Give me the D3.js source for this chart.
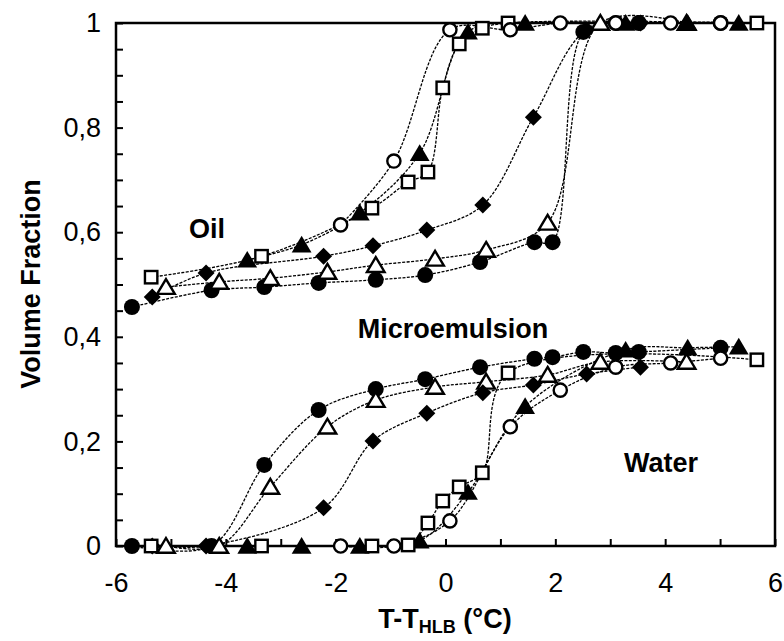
<!DOCTYPE html>
<meta charset="utf-8">
<style>
    body { margin: 0; background: #fff; }
    svg { font-family: "Liberation Sans", Arial, sans-serif; }
    .tick text { font-size: 27px; fill: #000; }
    .tick line { stroke: #000; stroke-width: 2; }
    .curve { fill: none; stroke: #000; stroke-width: 1.3; stroke-dasharray: 3,1.4; }
    .lbl { font-size: 27px; font-weight: bold; }
</style>

<svg width="784" height="641"></svg>

<script src="https://d3js.org/d3.v7.min.js"></script>

<script>
// filled circles
var fcX     = [-5.71, -4.26, -3.30, -2.31, -1.27, -0.37, 0.63, 1.62, 1.95, 2.51, 3.10, 3.52, 5.01];
var fcOil   = [0.457, 0.489, 0.495, 0.503, 0.509, 0.518, 0.543, 0.581, 0.581, 0.983, 1, 1, 1];
var fcWater = [0, 0, 0.155, 0.260, 0.300, 0.319, 0.342, 0.358, 0.361, 0.371, 0.369, 0.371, 0.379];
// open triangles
var otX     = [-5.09, -4.12, -3.19, -2.15, -1.27, -0.19, 0.74, 1.86, 2.82, 4.39];
var otOil   = [0.495, 0.505, 0.512, 0.524, 0.537, 0.549, 0.566, 0.618, 1, 1];
var otWater = [0, 0, 0.113, 0.228, 0.279, 0.304, 0.314, 0.327, 0.352, 0.352];
// filled diamonds
var fdX     = [-5.34, -4.36, -2.22, -1.32, -0.34, 0.68, 1.60, 2.57, 3.55];
var fdOil   = [0.476, 0.522, 0.554, 0.574, 0.604, 0.652, 0.820, 0.987, 1];
var fdWater = [0, 0, 0.073, 0.201, 0.254, 0.293, 0.308, 0.329, 0.342];
// filled triangles
var ftX     = [-3.61, -2.62, -1.56, -0.47, 0.41, 1.45, 3.28, 4.41, 5.34];
var ftOil   = [0.547, 0.576, 0.637, 0.751, 0.983, 1, 1, 1, 1];
var ftWater = [0, 0, 0, 0.01, 0.103, 0.267, 0.375, 0.379, 0.381];
// open squares
var osX     = [-5.36, -3.35, -1.34, -0.68, -0.32, -0.05, 0.25, 0.67, 1.14, 5.67];
var osOil   = [0.514, 0.554, 0.646, 0.696, 0.715, 0.876, 0.960, 0.990, 1, 1];
var osWater = [0, 0, 0, 0.002, 0.044, 0.086, 0.113, 0.14, 0.331, 0.356];
// open circles
var ocX     = [-1.91, -0.94, 0.08, 1.18, 2.09, 3.10, 4.10, 5.01];
var ocOil   = [0.614, 0.736, 0.987, 0.987, 1, 1, 1, 1];
var ocWater = [0, 0, 0.048, 0.228, 0.298, 0.342, 0.350, 0.359];

var xMajor = [-6, -4, -2, 0, 2, 4, 6];
var yMajor = [0, 0.2, 0.4, 0.6, 0.8, 1];

var series = [
    { x: fcX, oil: fcOil, water: fcWater, sym: 'circle',   filled: true },
    { x: otX, oil: otOil, water: otWater, sym: 'triangle', filled: false },
    { x: fdX, oil: fdOil, water: fdWater, sym: 'diamond',  filled: true },
    { x: ftX, oil: ftOil, water: ftWater, sym: 'triangle', filled: true },
    { x: osX, oil: osOil, water: osWater, sym: 'square',   filled: false },
    { x: ocX, oil: ocOil, water: ocWater, sym: 'circle',   filled: false }
];

var L = 116, R = 775, T = 23, B = 546;
var x = d3.scaleLinear().domain([-6, 6]).range([L, R]),
    y = d3.scaleLinear().domain([0, 1]).range([B, T]);

var svg = d3.select('svg');

// axes, inward ticks
var xAxis = d3.axisBottom(x)
    .tickValues(d3.range(13).map(function(i) { return i - 6; }))
    .tickSizeInner(-7).tickSizeOuter(0).tickPadding(27)
    .tickFormat(function(d) { return xMajor.indexOf(d) >= 0 ? String(d) : ''; });
svg.append('g').attr('transform', 'translate(0,' + B + ')').call(xAxis)
    .call(function(g) { g.select('.domain').remove(); });

var yAxis = d3.axisLeft(y)
    .tickValues(d3.range(21).map(function(i) { return i / 20; }))
    .tickSizeInner(-7).tickSizeOuter(0).tickPadding(15)
    .tickFormat(function(d) {
        var m = yMajor.find(function(v) { return Math.abs(v - d) < 1e-9; });
        if (m === undefined) return '';
        return (m === 0 || m === 1) ? String(m) : m.toFixed(1).replace('.', ',');
    });
svg.append('g').attr('transform', 'translate(' + L + ',0)').call(yAxis)
    .call(function(g) { g.select('.domain').remove(); });

svg.selectAll('.tick text').attr('font-family', null).attr('font-size', null);

svg.append('rect')
    .attr('x', L).attr('y', T).attr('width', R - L).attr('height', B - T)
    .attr('fill', 'none').attr('stroke', '#000').attr('stroke-width', 2.5);

// smoothed curves
var line = d3.line()
    .x(function(d) { return x(d[0]); })
    .y(function(d) { return y(d[1]); })
    .curve(d3.curveCatmullRom.alpha(0.5));

series.forEach(function(s) {
    ['oil', 'water'].forEach(function(k) {
        svg.append('path').attr('class', 'curve')
            .datum(s.x.map(function(v, i) { return [v, s[k][i]]; }))
            .attr('d', line);
    });
});

// markers
function marker(g, s) {
    var fill = s.filled ? '#000' : '#fff',
        sw = s.filled ? 0 : 2.4;
    if (s.sym === 'circle') {
        g.append('circle').attr('r', s.filled ? 8 : 6.6)
            .attr('fill', fill).attr('stroke', '#000').attr('stroke-width', sw);
    } else if (s.sym === 'square') {
        g.append('rect').attr('x', -6.2).attr('y', -6.2).attr('width', 12.4).attr('height', 12.4)
            .attr('fill', fill).attr('stroke', '#000').attr('stroke-width', sw);
    } else if (s.sym === 'triangle') {
        var h = s.filled ? 9 : 8;
        g.append('path')
            .attr('d', 'M0,' + (-h) + 'L' + (h * 1.1) + ',' + (h * 0.85) + 'L' + (-h * 1.1) + ',' + (h * 0.85) + 'Z')
            .attr('fill', fill).attr('stroke', '#000').attr('stroke-width', sw)
            .attr('stroke-linejoin', 'miter');
    } else {
        g.append('path').attr('d', 'M0,-8.5L8.5,0L0,8.5L-8.5,0Z').attr('fill', fill);
    }
}

series.forEach(function(s) {
    ['oil', 'water'].forEach(function(k) {
        s.x.forEach(function(v, i) {
            var g = svg.append('g').attr('transform', 'translate(' + x(v) + ',' + y(s[k][i]) + ')');
            marker(g, s);
        });
    });
});

// region labels
svg.append('text').attr('class', 'lbl').attr('x', 207).attr('y', 238).attr('text-anchor', 'middle').text('Oil');
svg.append('text').attr('class', 'lbl').attr('x', 453).attr('y', 338).attr('text-anchor', 'middle').text('Microemulsion');
svg.append('text').attr('class', 'lbl').attr('x', 661).attr('y', 472).attr('text-anchor', 'middle').text('Water');

// axis titles
svg.append('text').attr('class', 'lbl')
    .attr('transform', 'translate(40,284) rotate(-90)')
    .attr('text-anchor', 'middle').text('Volume Fraction');

var xt = svg.append('text').attr('class', 'lbl').attr('x', 445).attr('y', 628).attr('text-anchor', 'middle');
xt.append('tspan').text('T-T');
xt.append('tspan').attr('font-size', '18px').attr('dy', 5).text('HLB');
xt.append('tspan').attr('dy', -5).text(' (°C)');
</script>
